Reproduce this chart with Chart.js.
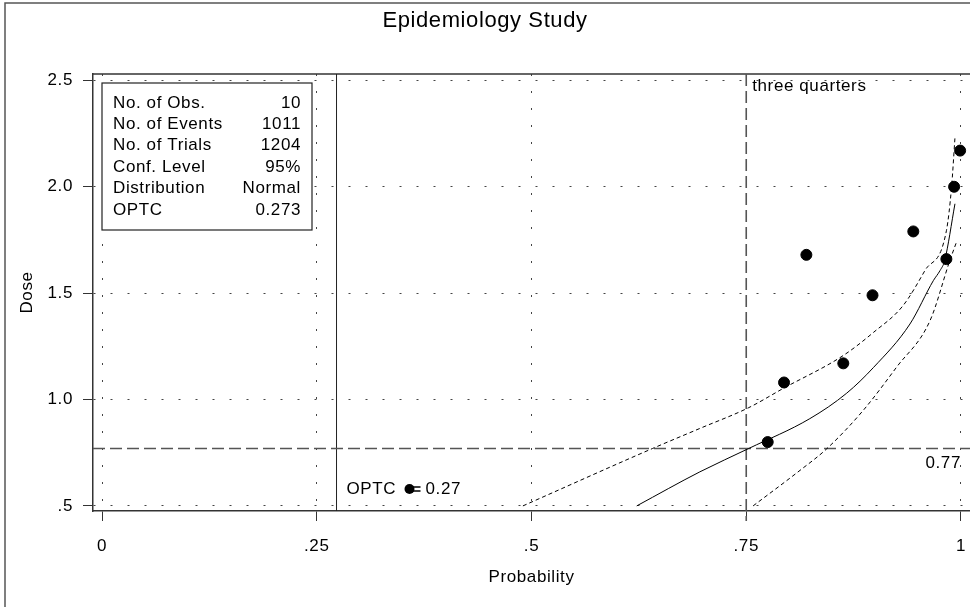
<!DOCTYPE html>
<html lang="en">
<head>
  <meta charset="UTF-8">
  <title>Epidemiology Study</title>
  <style>
    html, body { margin: 0; padding: 0; background: #fff; }
    #wrap { width: 970px; height: 607px; position: relative; }
  </style>
</head>
<body>
  <div id="wrap"><canvas id="chart"></canvas></div>

  <script src="https://cdn.jsdelivr.net/npm/chart.js"></script>
  <script>
    // observed points
    const obsProb = [0.775, 0.794, 0.820, 0.863, 0.897, 0.9445, 0.983, 0.992, 0.999];
    const obsDose = [0.80, 1.08, 1.68, 1.17, 1.49, 1.79, 1.66, 2.00, 2.17];

    // fitted curve and confidence limits
    const fitProb = [0.6225, 0.696, 0.753, 0.824, 0.867, 0.898, 0.9406, 0.968, 0.9756, 0.981, 0.993];
    const fitDose = [0.50, 0.66, 0.77, 0.91, 1.03, 1.15, 1.355, 1.56, 1.606, 1.653, 1.92];
    const upperProb = [0.490, 0.641, 0.696, 0.753, 0.793, 0.863, 0.898, 0.9325, 0.958, 0.983, 0.989, 0.993];
    const upperDose = [0.50, 0.77, 0.864, 0.962, 1.052, 1.207, 1.315, 1.441, 1.606, 1.793, 1.997, 2.231];
    const lowerProb = [0.758, 0.8126, 0.8436, 0.886, 0.925, 0.964, 0.987, 0.9953];
    const lowerDose = [0.50, 0.667, 0.768, 0.948, 1.152, 1.371, 1.653, 1.746];

    // axes
    const xTickValues = [0, 0.25, 0.5, 0.75, 1];
    const xTickLabels = ['0', '.25', '.5', '.75', '1'];
    const yTickValues = [0.5, 1.0, 1.5, 2.0, 2.5];
    const yTickLabels = ['.5', '1.0', '1.5', '2.0', '2.5'];

    // reference lines
    const refProb = 0.75;
    const refProbLabel = 'three quarters';
    const refDose = 0.77;
    const refDoseLabel = '0.77';
    const optcValue = 0.273;
    const optcLabel = '0.27';

    // stats box
    const statNames = ['No. of Obs.', 'No. of Events', 'No. of Trials', 'Conf. Level', 'Distribution', 'OPTC'];
    const statValues = ['10', '1011', '1204', '95%', 'Normal', '0.273'];

    const FONT = "'Liberation Sans', Arial, Helvetica, sans-serif";
    const pts = (xs, ys) => xs.map((x, i) => ({ x: x, y: ys[i] }));

    const decor = {
      id: 'decor',
      beforeDraw(chart) {
        // SAS text is set a little wider than Arial
        chart.ctx.letterSpacing = '0.6px';
      },
      beforeDatasetsDraw(chart) {
        const { ctx, chartArea: a, scales: { x, y } } = chart;
        ctx.save();
        // outer frame (left + top)
        ctx.strokeStyle = '#555';
        ctx.lineWidth = 1.5;
        ctx.beginPath();
        ctx.moveTo(5, chart.height);
        ctx.lineTo(5, 3);
        ctx.lineTo(chart.width, 3);
        ctx.stroke();
        // top of plot frame
        ctx.strokeStyle = '#333';
        ctx.beginPath();
        ctx.moveTo(a.left, a.top);
        ctx.lineTo(a.right, a.top);
        ctx.stroke();

        // OPTC line
        const ox = x.getPixelForValue(optcValue);
        ctx.lineWidth = 1;
        ctx.strokeStyle = '#222';
        ctx.beginPath();
        ctx.moveTo(ox, a.top);
        ctx.lineTo(ox, a.bottom);
        ctx.stroke();

        // dashed reference lines
        ctx.strokeStyle = '#555';
        ctx.lineWidth = 1.6;
        ctx.setLineDash([12, 5]);
        const rx = x.getPixelForValue(refProb);
        ctx.beginPath();
        ctx.moveTo(rx, a.top);
        ctx.lineTo(rx, a.bottom + 10);
        ctx.stroke();
        const ry = y.getPixelForValue(refDose);
        ctx.beginPath();
        ctx.moveTo(a.left, ry);
        ctx.lineTo(a.right, ry);
        ctx.stroke();
        ctx.setLineDash([]);

        ctx.fillStyle = '#000';
        ctx.font = '17px ' + FONT;
        ctx.textBaseline = 'middle';
        ctx.textAlign = 'left';
        ctx.fillText(refProbLabel, rx + 6, a.top + 12);
        ctx.textAlign = 'right';
        ctx.fillText(refDoseLabel, x.getPixelForValue(1), ry + 15);

        // OPTC annotation
        const ay = a.bottom - 22;
        ctx.textAlign = 'left';
        ctx.fillText('OPTC', ox + 10, ay);
        ctx.beginPath();
        ctx.arc(ox + 73, ay, 5, 0, Math.PI * 2);
        ctx.fill();
        ctx.lineWidth = 1.5;
        ctx.strokeStyle = '#000';
        ctx.beginPath();
        ctx.moveTo(ox + 76, ay - 2); ctx.lineTo(ox + 84, ay - 2);
        ctx.moveTo(ox + 76, ay + 2); ctx.lineTo(ox + 84, ay + 2);
        ctx.stroke();
        ctx.fillText(optcLabel, ox + 89, ay);
        ctx.restore();
      },
      afterDatasetsDraw(chart) {
        const { ctx, chartArea: a } = chart;
        ctx.save();
        const bx = a.left + 9, by = a.top + 9, bw = 210, bh = 147;
        ctx.fillStyle = '#fff';
        ctx.fillRect(bx, by, bw, bh);
        ctx.strokeStyle = '#222';
        ctx.lineWidth = 1.2;
        ctx.strokeRect(bx, by, bw, bh);
        ctx.fillStyle = '#000';
        ctx.font = '17px ' + FONT;
        ctx.textBaseline = 'middle';
        statNames.forEach((name, i) => {
          const ty = by + 20 + i * 21.4;
          ctx.textAlign = 'left';
          ctx.fillText(name, bx + 11, ty);
          ctx.textAlign = 'right';
          ctx.fillText(statValues[i], bx + bw - 11, ty);
        });
        ctx.restore();
      }
    };

    const ctx = document.getElementById('chart').getContext('2d');
    new Chart(ctx, {
      type: 'scatter',
      data: {
        datasets: [
          {
            label: 'Fit',
            data: pts(fitProb, fitDose),
            showLine: true, pointRadius: 0,
            borderColor: '#000', borderWidth: 1, cubicInterpolationMode: 'monotone'
          },
          {
            label: 'Upper',
            data: pts(upperProb, upperDose),
            showLine: true, pointRadius: 0,
            borderColor: '#000', borderWidth: 1, borderDash: [4, 3], cubicInterpolationMode: 'monotone'
          },
          {
            label: 'Lower',
            data: pts(lowerProb, lowerDose),
            showLine: true, pointRadius: 0,
            borderColor: '#000', borderWidth: 1, borderDash: [4, 3], cubicInterpolationMode: 'monotone'
          },
          {
            label: 'Observed',
            data: pts(obsProb, obsDose),
            pointRadius: 5.5, pointHoverRadius: 5.5,
            backgroundColor: '#000', borderColor: '#000'
          }
        ]
      },
      options: {
        responsive: true,
        maintainAspectRatio: false,
        animation: false,
        layout: { padding: 0, autoPadding: false },
        plugins: {
          legend: { display: false },
          tooltip: { enabled: false },
          title: {
            display: true,
            text: 'Epidemiology Study',
            color: '#000',
            font: { family: FONT, size: 22, weight: 'normal' },
            padding: { top: 8, bottom: 39.6 }
          }
        },
        scales: {
          x: {
            type: 'linear',
            min: -0.0105, max: 1.0105,
            afterBuildTicks: s => { s.ticks = xTickValues.map(v => ({ value: v })); },
            afterFit: s => { s.height = 96; s.paddingLeft = 0; s.paddingRight = 0; },
            ticks: {
              callback: (v, i) => xTickLabels[i],
              color: '#000', font: { family: FONT, size: 17 },
              padding: 15, autoSkip: false, maxRotation: 0
            },
            grid: { color: '#444', lineWidth: 1, tickLength: 10, tickColor: '#333', tickWidth: 1, tickBorderDash: [] },
            border: { dash: [2, 15], color: '#333', width: 1.5 },
            title: {
              display: true, text: 'Probability', color: '#000',
              font: { family: FONT, size: 17 }, padding: { top: 0, bottom: 19 }
            }
          },
          y: {
            type: 'linear',
            min: 0.476, max: 2.53,
            afterBuildTicks: s => { s.ticks = yTickValues.map(v => ({ value: v })); },
            afterFit: s => { s.width = 93; s.paddingTop = 0; s.paddingBottom = 0; },
            ticks: {
              callback: (v, i) => yTickLabels[i],
              color: '#000', font: { family: FONT, size: 17 },
              padding: 10, autoSkip: false
            },
            grid: { color: '#444', lineWidth: 1, tickLength: 10, tickColor: '#333', tickWidth: 1, tickBorderDash: [] },
            border: { dash: [2, 15], color: '#333', width: 1.5 },
            title: {
              display: true, text: 'Dose', color: '#000',
              font: { family: FONT, size: 17 }, padding: { top: 17, bottom: 0 }
            }
          }
        }
      },
      plugins: [decor]
    });
  </script>
</body>
</html>
